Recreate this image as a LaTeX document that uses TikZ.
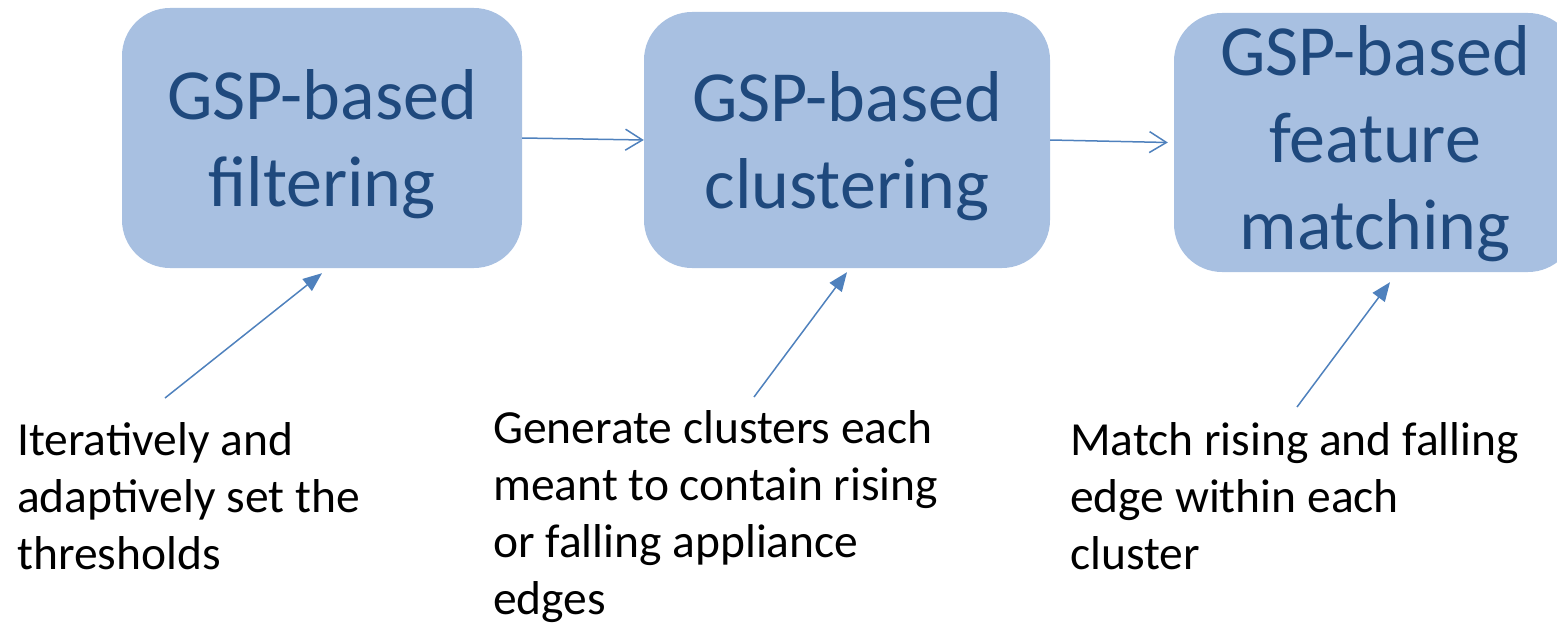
\documentclass[tikz,border=0pt]{standalone}
\usepackage{fontspec}
\setmainfont{Carlito}
\usetikzlibrary{arrows.meta}
\definecolor{boxfill}{RGB}{168,192,225}
\definecolor{boxtext}{RGB}{31,73,125}
\definecolor{arrowblue}{RGB}{79,129,189}
\begin{document}
\begin{tikzpicture}[x=1pt,y=-1pt,
  stagebox/.style={draw=none, fill=boxfill, rounded corners=48pt, inner sep=0pt,
    align=center, text=boxtext, font=\fontsize{72}{87}\selectfont},
  note/.style={anchor=north west, inner sep=0pt, align=left, text=black,
    font=\fontsize{47.5}{57}\selectfont},
  flow/.style={draw=arrowblue, line width=1.5pt, -{Straight Barb[length=17pt,width=21pt,line width=1.5pt]}},
  hint/.style={draw=arrowblue, line width=1.5pt, -{Triangle[length=19pt,width=15pt]}}]
\useasboundingbox (0,0) rectangle (1557,623);
\begin{scope}
\clip (0,0) rectangle (1557,623);
\node[stagebox, text depth=0pt, minimum width=400pt, minimum height=260pt] (b1) at (322,138) {GSP-based\\filtering};
\node[stagebox, text depth=0pt, minimum width=406pt, minimum height=256pt] (b2) at (847,140) {GSP-based\\clustering};
\node[stagebox, text depth=9pt, minimum width=402pt, minimum height=259pt] (b3) at (1375,142.5) {GSP-based\\feature\\matching};
\end{scope}
\node[note] (t1) at (17,422) {Iteratively and\\adaptively set the\\thresholds};
\node[note] (t2) at (493,410) {Generate clusters each\\meant to contain rising\\or falling appliance\\edges};
\node[note] (t3) at (1070,422) {Match rising and falling\\edge within each\\cluster};
\coordinate (c1) at (165,398);
\coordinate (c2) at (754,397);
\coordinate (c3) at (1297,407);
\draw[flow] (b1.east) -- (b2.west);
\draw[flow] (b2.east) -- ([xshift=-6pt]b3.west);
\draw[hint] (c1) -- ([yshift=-5pt]b1.south);
\draw[hint] (c2) -- ([yshift=-4pt]b2.south);
\draw[hint] (c3) -- ([xshift=15pt,yshift=-10pt]b3.south);
\end{tikzpicture}
\end{document}
